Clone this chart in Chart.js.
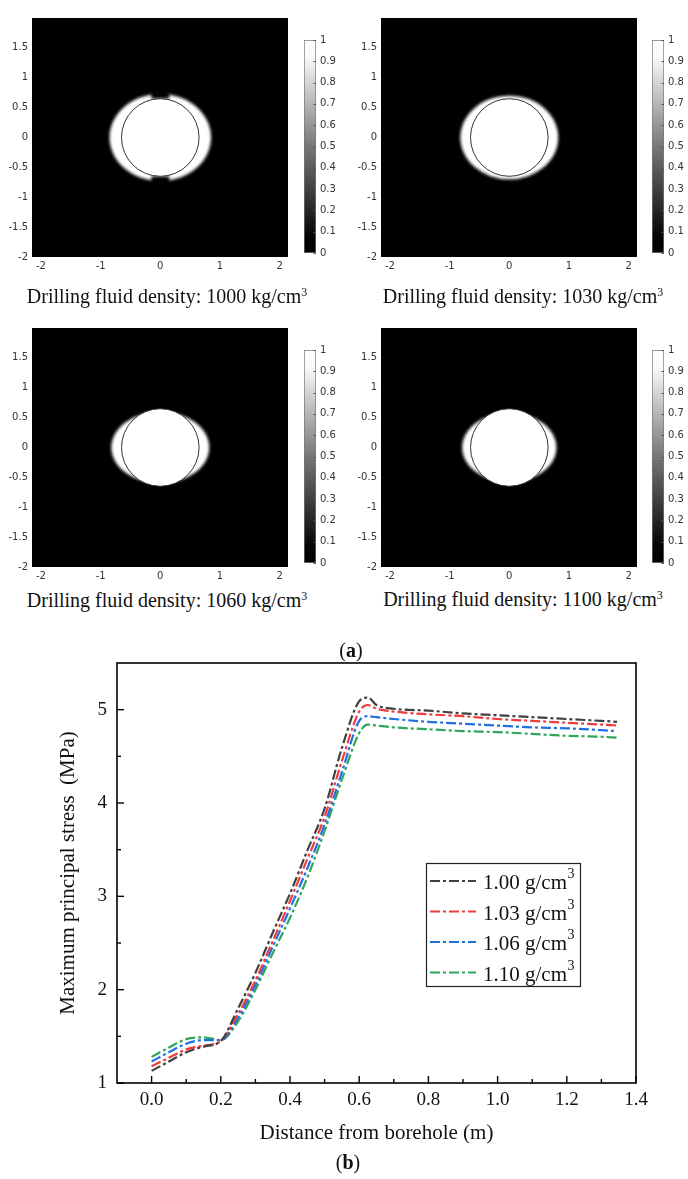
<!DOCTYPE html>
<html><head><meta charset="utf-8">
<script src="https://cdn.jsdelivr.net/npm/chart.js@4.4.1/dist/chart.umd.min.js"></script>
<style>
html,body{margin:0;padding:0;background:#fff;overflow:hidden;}
body{width:688px;height:1179px;position:relative;font-family:'Liberation Serif','Times New Roman',serif;color:#111;}
canvas{position:absolute;}
.cap{position:absolute;font-size:20px;line-height:1;white-space:nowrap;transform:translate(-50%,-50%);}
.cap sup{font-size:12px;line-height:0;vertical-align:7px;}
</style></head><body>

<canvas id="h0" width="292" height="277" style="left:0;top:0"></canvas>
<canvas id="h1" width="292" height="277" style="left:349px;top:0"></canvas>
<canvas id="h2" width="292" height="277" style="left:0;top:310px"></canvas>
<canvas id="h3" width="292" height="277" style="left:349px;top:310px"></canvas>
<canvas id="c0" width="60" height="233" style="left:300px;top:30px"></canvas>
<canvas id="c1" width="60" height="233" style="left:648px;top:30px"></canvas>
<canvas id="c2" width="60" height="233" style="left:300px;top:340px"></canvas>
<canvas id="c3" width="60" height="233" style="left:648px;top:340px"></canvas>
<canvas id="main" width="688" height="539" style="left:0;top:640px"></canvas>

<div class="cap" style="left:167px;top:296px">Drilling fluid density: 1000 kg/cm<sup>3</sup></div>
<div class="cap" style="left:523px;top:296px">Drilling fluid density: 1030 kg/cm<sup>3</sup></div>
<div class="cap" style="left:167px;top:600px">Drilling fluid density: 1060 kg/cm<sup>3</sup></div>
<div class="cap" style="left:523px;top:599px">Drilling fluid density: 1100 kg/cm<sup>3</sup></div>
<div class="cap" style="left:351px;top:650px">(<b>a</b>)</div>
<div class="cap" style="left:348px;top:1162px">(<b>b</b>)</div>

<script>
// ---------- data: damage maps (a) ----------
const mapXTicks = [-2, -1, 0, 1, 2];
const mapYTicks = [-2, -1.5, -1, -0.5, 0, 0.5, 1, 1.5];
const boreRadius = [0.65, 0.65, 0.65, 0.65];
const haloRx = [0.85, 0.82, 0.82, 0.79];
const haloRy = [0.73, 0.70, 0.60, 0.58];
const notchHalfWidth = [0.15, 0, 0, 0];
const cbarTicks = [0, 0.1, 0.2, 0.3, 0.4, 0.5, 0.6, 0.7, 0.8, 0.9, 1];

// ---------- data: stress curves (b) ----------
const distance = [0, 0.05, 0.1, 0.15, 0.2, 0.25, 0.3, 0.35, 0.4, 0.45, 0.5, 0.55, 0.6, 0.625, 0.65, 0.7, 0.8, 0.9, 1.0, 1.1, 1.2, 1.3, 1.345];
const stress100 = [1.13, 1.23, 1.33, 1.39, 1.45, 1.80, 2.18, 2.61, 3.03, 3.49, 3.94, 4.59, 5.09, 5.13, 5.05, 5.01, 4.99, 4.96, 4.94, 4.92, 4.90, 4.88, 4.87];
const stress103 = [1.18, 1.27, 1.36, 1.40, 1.45, 1.74, 2.10, 2.52, 2.95, 3.40, 3.85, 4.45, 4.98, 5.05, 5.01, 4.98, 4.95, 4.93, 4.90, 4.88, 4.86, 4.84, 4.83];
const stress106 = [1.23, 1.33, 1.42, 1.46, 1.46, 1.70, 2.05, 2.46, 2.87, 3.30, 3.77, 4.33, 4.88, 4.93, 4.92, 4.90, 4.87, 4.85, 4.83, 4.81, 4.80, 4.78, 4.77];
const stress110 = [1.28, 1.38, 1.47, 1.49, 1.46, 1.66, 2.00, 2.39, 2.77, 3.20, 3.70, 4.25, 4.75, 4.84, 4.83, 4.81, 4.79, 4.77, 4.76, 4.74, 4.72, 4.71, 4.70];
const seriesLabels = ['1.00 g/cm³', '1.03 g/cm³', '1.06 g/cm³', '1.10 g/cm³'];
const seriesColors = ['#404040', '#ee3b3b', '#1f6fe5', '#2da65a'];
const xTickValues = [0, 0.2, 0.4, 0.6, 0.8, 1.0, 1.2, 1.4];
const yTickValues = [1, 2, 3, 4, 5];

const SERIF = "'Liberation Serif','Times New Roman',serif";
const SANS = "'DejaVu Sans',sans-serif";

// ---------- heat map plugin ----------
const heatPlugin = {
  id: 'heatBg',
  beforeDatasetsDraw(chart) {
    const {ctx, chartArea: a, scales: {x, y}} = chart;
    const ds = chart.data.datasets[0];
    ctx.save();
    ctx.fillStyle = '#000';
    ctx.fillRect(a.left, a.top, a.right - a.left, a.bottom - a.top);
    ctx.beginPath(); ctx.rect(a.left, a.top, a.right - a.left, a.bottom - a.top); ctx.clip();
    const cx = x.getPixelForValue(0), cy = y.getPixelForValue(0);
    const rx = Math.abs(x.getPixelForValue(ds.halo.rx) - cx);
    const ry = Math.abs(y.getPixelForValue(ds.halo.ry) - cy);
    ctx.filter = 'blur(1.6px)';
    ctx.fillStyle = '#fff';
    ctx.beginPath(); ctx.ellipse(cx, cy, rx, ry, 0, 0, Math.PI * 2); ctx.fill();
    if (ds.halo.notch > 0) {
      const nw = Math.abs(x.getPixelForValue(ds.halo.notch) - cx);
      const rr = Math.abs(y.getPixelForValue(ds.r) - cy);
      ctx.fillStyle = '#000';
      ctx.fillRect(cx - nw, cy - ry - 3, nw * 2, ry - rr + 3);
      ctx.fillRect(cx - nw, cy + rr, nw * 2, ry - rr + 3);
    }
    ctx.restore();
  }
};

function heatChart(id, i) {
  new Chart(document.getElementById(id), {
    type: 'scatter',
    data: {datasets: [{
      data: [{x: 0, y: 0}],
      r: boreRadius[i],
      halo: {rx: haloRx[i], ry: haloRy[i], notch: notchHalfWidth[i]},
      pointRadius: c => { const s = c.chart.scales.x; return Math.abs(s.getPixelForValue(boreRadius[i]) - s.getPixelForValue(0)); },
      pointBackgroundColor: '#fff',
      pointBorderColor: '#333',
      pointBorderWidth: 1,
      pointHoverRadius: 0
    }]},
    options: {
      responsive: false, animation: false, events: [],
      layout: {padding: {top: 18, right: 4, left: 0, bottom: 0}},
      plugins: {legend: {display: false}, tooltip: {enabled: false}},
      scales: {
        x: {type: 'linear', min: -2.15, max: 2.14,
          afterBuildTicks: s => { s.ticks = mapXTicks.map(v => ({value: v})); },
          afterFit: s => { s.height = 20; },
          grid: {display: false, drawTicks: false}, border: {display: false},
          ticks: {callback: v => String(v), font: {family: SANS, size: 10}, color: '#333', padding: 3, maxRotation: 0}},
        y: {type: 'linear', min: -2, max: 2,
          afterBuildTicks: s => { s.ticks = mapYTicks.map(v => ({value: v})); },
          afterFit: s => { s.width = 32; },
          grid: {display: false, drawTicks: false}, border: {display: false},
          ticks: {callback: v => String(v), font: {family: SANS, size: 10}, color: '#333', padding: 4}}
      }
    },
    plugins: [heatPlugin]
  });
}

// ---------- colour bar ----------
const cbarTickPlugin = {
  id: 'cbarTicks',
  afterDatasetsDraw(chart) {
    const {ctx, chartArea: a, scales: {y}} = chart;
    ctx.save();
    ctx.strokeStyle = '#555'; ctx.lineWidth = 1;
    cbarTicks.forEach(v => {
      const p = Math.round(y.getPixelForValue(v)) + 0.5;
      ctx.beginPath(); ctx.moveTo(a.right - 2.5, p); ctx.lineTo(a.right, p); ctx.stroke();
    });
    ctx.restore();
  }
};

function cbarChart(id) {
  new Chart(document.getElementById(id), {
    type: 'bar',
    data: {labels: [''], datasets: [{
      data: [[cbarTicks[0], cbarTicks[cbarTicks.length - 1]]],
      backgroundColor: c => {
        const a = c.chart.chartArea; if (!a) return '#888';
        const g = c.chart.ctx.createLinearGradient(0, a.bottom, 0, a.top);
        g.addColorStop(0, '#000'); g.addColorStop(0.08, '#050505'); g.addColorStop(0.5, '#777'); g.addColorStop(0.92, '#fafafa'); g.addColorStop(1, '#fff');
        return g;
      },
      borderColor: '#777', borderWidth: 1, borderSkipped: false,
      barPercentage: 1, categoryPercentage: 1
    }]},
    options: {
      responsive: false, animation: false, events: [],
      layout: {padding: {left: 4, top: 10, bottom: 10, right: 0}},
      plugins: {legend: {display: false}, tooltip: {enabled: false}},
      scales: {
        x: {display: false},
        y: {position: 'right', min: 0, max: 1,
          afterBuildTicks: s => { s.ticks = cbarTicks.map(v => ({value: v})); },
          afterFit: s => { s.width = 44; },
          grid: {display: false, drawTicks: false}, border: {display: false},
          ticks: {callback: v => String(v), font: {family: SANS, size: 10}, color: '#333', padding: 4}}
      }
    },
    plugins: [cbarTickPlugin]
  });
}

['h0', 'h1', 'h2', 'h3'].forEach((id, i) => heatChart(id, i));
['c0', 'c1', 'c2', 'c3'].forEach(id => cbarChart(id));

// ---------- line chart (b) ----------
const framePlugin = {
  id: 'frameTicks',
  afterDatasetsDraw(chart) {
    const {ctx, chartArea: a, scales: {x, y}} = chart;
    ctx.save();
    ctx.strokeStyle = '#000'; ctx.lineWidth = 1.6;
    ctx.strokeRect(a.left, a.top, a.right - a.left, a.bottom - a.top);
    ctx.lineWidth = 1.4;
    const tick = (x1, y1, x2, y2) => { ctx.beginPath(); ctx.moveTo(x1, y1); ctx.lineTo(x2, y2); ctx.stroke(); };
    xTickValues.forEach((v, k) => {
      const p = x.getPixelForValue(v);
      tick(p, a.bottom, p, a.bottom - 7);
      if (k < xTickValues.length - 1) {
        const m = x.getPixelForValue((v + xTickValues[k + 1]) / 2);
        tick(m, a.bottom, m, a.bottom - 4);
      }
    });
    yTickValues.forEach((v, k) => {
      const p = y.getPixelForValue(v);
      tick(a.left, p, a.left + 7, p);
      if (k < yTickValues.length - 1) {
        const m = y.getPixelForValue((v + yTickValues[k + 1]) / 2);
        tick(a.left, m, a.left + 4, m);
      }
    });
    ctx.restore();
  }
};

const boxLegend = {
  id: 'boxLegend',
  afterDraw(chart) {
    const {ctx} = chart;
    const bx = 426, by = 223, bw = 154, bh = 123;
    ctx.save();
    ctx.strokeStyle = '#222'; ctx.lineWidth = 1.2;
    ctx.strokeRect(bx + 0.5, by + 0.5, bw, bh);
    chart.data.datasets.forEach((ds, k) => {
      const cy = by + 18 + k * 30.5;
      ctx.strokeStyle = ds.borderColor; ctx.lineWidth = ds.borderWidth;
      ctx.setLineDash(ds.borderDash);
      ctx.beginPath(); ctx.moveTo(bx + 4, cy); ctx.lineTo(bx + 50, cy); ctx.stroke();
      ctx.setLineDash([]);
      const parts = ds.label.split('³');
      ctx.fillStyle = '#111';
      ctx.font = '21px ' + SERIF;
      ctx.textBaseline = 'alphabetic';
      ctx.fillText(parts[0], bx + 57, cy + 8);
      const w = ctx.measureText(parts[0]).width;
      ctx.font = '14px ' + SERIF;
      ctx.fillText('3', bx + 57 + w + 0.5, cy - 3);
    });
    ctx.restore();
  }
};

const seriesData = [stress100, stress103, stress106, stress110];
new Chart(document.getElementById('main'), {
  type: 'line',
  data: {datasets: seriesData.map((arr, k) => ({
    label: seriesLabels[k],
    data: distance.map((d, j) => ({x: d, y: arr[j]})),
    borderColor: seriesColors[k],
    borderWidth: 2.2,
    borderDash: [10, 3, 3, 3],
    pointRadius: 0,
    fill: false,
    cubicInterpolationMode: 'monotone'
  }))},
  options: {
    responsive: false, animation: false, events: [],
    layout: {padding: {top: 23, right: 52, bottom: 0, left: 0}},
    plugins: {legend: {display: false}, tooltip: {enabled: false}},
    scales: {
      x: {type: 'linear', min: -0.1, max: 1.4,
        afterBuildTicks: s => { s.ticks = xTickValues.map(v => ({value: v})); },
        afterFit: s => { s.height = 96; },
        grid: {display: false, drawTicks: false}, border: {display: false},
        ticks: {callback: v => v.toFixed(1), font: {family: SERIF, size: 19}, color: '#111', padding: 6, maxRotation: 0},
        title: {display: true, text: 'Distance from borehole (m)', font: {family: SERIF, size: 21}, color: '#111', padding: {top: 0, bottom: 33}}},
      y: {type: 'linear', min: 1, max: 5.5,
        afterBuildTicks: s => { s.ticks = yTickValues.map(v => ({value: v})); },
        afterFit: s => { s.width = 117; },
        grid: {display: false, drawTicks: false}, border: {display: false},
        ticks: {callback: v => String(v), font: {family: SERIF, size: 19}, color: '#111', padding: 10},
        title: {display: true, text: 'Maximum principal stress  (MPa)', font: {family: SERIF, size: 21}, color: '#111', padding: {top: 56, bottom: 0}}}
    }
  },
  plugins: [framePlugin, boxLegend]
});
</script>
</body></html>
